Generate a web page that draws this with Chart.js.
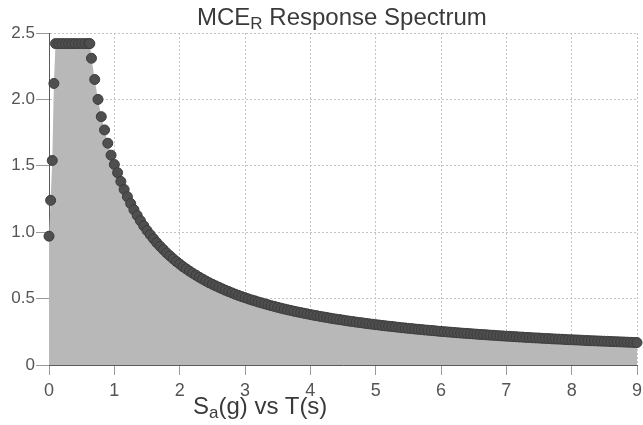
<!DOCTYPE html>
<html>
<head>
<meta charset="utf-8">
<title>MCER Response Spectrum</title>
<script src="https://cdn.jsdelivr.net/npm/chart.js@4.4.1/dist/chart.umd.min.js"></script>
<style>
  html, body { margin: 0; padding: 0; background: #fff; }
  #wrap { position: relative; width: 643px; height: 425px; font-family: "Liberation Sans", Arial, sans-serif; }
  #chart { position: absolute; left: 0; top: 0; }
  .ttl { position: absolute; white-space: nowrap; color: #3a3a3a; font-size: 24px; line-height: 24px; }
  .ttl sub { font-size: 17px; vertical-align: -4px; line-height: 0; }
  #main-title { left: 197px; top: 5px; }
  #x-title { left: 193px; top: 394px; }
</style>
</head>
<body>
<div id="wrap">
  <canvas id="chart" width="643" height="425"></canvas>
  <div class="ttl" id="main-title">MCE<sub>R</sub> Response Spectrum</div>
  <div class="ttl" id="x-title">S<sub>a</sub>(g) vs T(s)</div>
</div>
<script>
// ── Data ───────────────────────────────────────────────────────
// T (s)
const periods = [
  0, 0.025, 0.05, 0.075, 0.1, 0.15, 0.2, 0.25, 0.3, 0.35, 0.4, 0.45, 0.5, 0.55, 0.6, 0.625,
  0.65, 0.7, 0.75, 0.8, 0.85, 0.9, 0.95,
  1.0, 1.05, 1.1, 1.15, 1.2, 1.25, 1.3, 1.35, 1.4, 1.45, 1.5, 1.55, 1.6, 1.65, 1.7, 1.75, 1.8, 1.85, 1.9, 1.95,
  2.0, 2.05, 2.1, 2.15, 2.2, 2.25, 2.3, 2.35, 2.4, 2.45, 2.5, 2.55, 2.6, 2.65, 2.7, 2.75, 2.8, 2.85, 2.9, 2.95,
  3.0, 3.05, 3.1, 3.15, 3.2, 3.25, 3.3, 3.35, 3.4, 3.45, 3.5, 3.55, 3.6, 3.65, 3.7, 3.75, 3.8, 3.85, 3.9, 3.95,
  4.0, 4.05, 4.1, 4.15, 4.2, 4.25, 4.3, 4.35, 4.4, 4.45, 4.5, 4.55, 4.6, 4.65, 4.7, 4.75, 4.8, 4.85, 4.9, 4.95,
  5.0, 5.05, 5.1, 5.15, 5.2, 5.25, 5.3, 5.35, 5.4, 5.45, 5.5, 5.55, 5.6, 5.65, 5.7, 5.75, 5.8, 5.85, 5.9, 5.95,
  6.0, 6.05, 6.1, 6.15, 6.2, 6.25, 6.3, 6.35, 6.4, 6.45, 6.5, 6.55, 6.6, 6.65, 6.7, 6.75, 6.8, 6.85, 6.9, 6.95,
  7.0, 7.05, 7.1, 7.15, 7.2, 7.25, 7.3, 7.35, 7.4, 7.45, 7.5, 7.55, 7.6, 7.65, 7.7, 7.75, 7.8, 7.85, 7.9, 7.95,
  8.0, 8.05, 8.1, 8.15, 8.2, 8.25, 8.3, 8.35, 8.4, 8.45, 8.5, 8.55, 8.6, 8.65, 8.7, 8.75, 8.8, 8.85, 8.9, 8.95,
  9.0
];

// Sa (g)
const sa = [
  0.97, 1.24, 1.54, 2.12, 2.42, 2.42, 2.42, 2.42, 2.42, 2.42, 2.42, 2.42, 2.42, 2.42, 2.42, 2.42,
  2.31, 2.15, 2.00, 1.87, 1.77, 1.67, 1.58,
  1.51, 1.448, 1.382, 1.322, 1.267, 1.216, 1.169, 1.126, 1.086, 1.048, 1.013, 0.981, 0.950, 0.921, 0.894, 0.869, 0.844, 0.822, 0.800, 0.779,
  0.760, 0.741, 0.724, 0.707, 0.691, 0.676, 0.661, 0.647, 0.633, 0.620, 0.608, 0.596, 0.585, 0.574, 0.563, 0.553, 0.543, 0.533, 0.524, 0.515,
  0.507, 0.498, 0.490, 0.483, 0.475, 0.468, 0.461, 0.454, 0.447, 0.441, 0.434, 0.428, 0.422, 0.416, 0.411, 0.405, 0.400, 0.395, 0.390, 0.385,
  0.380, 0.375, 0.371, 0.366, 0.362, 0.358, 0.353, 0.349, 0.345, 0.342, 0.338, 0.334, 0.330, 0.327, 0.323, 0.320, 0.317, 0.313, 0.310, 0.307,
  0.304, 0.301, 0.298, 0.295, 0.292, 0.290, 0.287, 0.284, 0.281, 0.279, 0.276, 0.274, 0.271, 0.269, 0.267, 0.264, 0.262, 0.260, 0.258, 0.255,
  0.253, 0.251, 0.249, 0.247, 0.245, 0.243, 0.241, 0.239, 0.238, 0.236, 0.234, 0.232, 0.230, 0.229, 0.227, 0.225, 0.224, 0.222, 0.220, 0.219,
  0.217, 0.216, 0.214, 0.213, 0.211, 0.210, 0.208, 0.207, 0.205, 0.204, 0.203, 0.201, 0.200, 0.199, 0.197, 0.196, 0.195, 0.194, 0.192, 0.191,
  0.190, 0.189, 0.188, 0.187, 0.185, 0.184, 0.183, 0.182, 0.181, 0.180, 0.179, 0.178, 0.177, 0.176, 0.175, 0.174, 0.173, 0.172, 0.171, 0.170,
  0.169
];

const xTicks = [0, 1, 2, 3, 4, 5, 6, 7, 8, 9];
const yTickLabels = ['0', '0.5', '1.0', '1.5', '2.0', '2.5'];

// ── Chart ──────────────────────────────────────────────────────

const points = periods.map((t, i) => ({ x: t, y: sa[i] }));

const gridCommon = {
  color: '#c4c4c4',
  tickColor: '#9a9a9a',
  lineWidth: 1,
  drawTicks: true,
};

new Chart(document.getElementById('chart'), {
  type: 'scatter',
  data: {
    datasets: [{
      data: points,
      showLine: true,
      borderWidth: 0,
      borderColor: 'rgba(0,0,0,0)',
      fill: 'origin',
      backgroundColor: '#b8b8b8',
      pointRadius: 5,
      pointBorderWidth: 1,
      pointBackgroundColor: '#4f4f4f',
      pointBorderColor: '#3c3c3c',
      clip: false,
    }],
  },
  options: {
    responsive: false,
    animation: false,
    events: [],
    layout: { padding: { top: 33, right: 4, bottom: 0, left: 0 } },
    plugins: {
      legend: { display: false },
      tooltip: { enabled: false },
      title: { display: false },
    },
    scales: {
      x: {
        type: 'linear',
        min: 0,
        max: 9,
        afterBuildTicks: s => { s.ticks = xTicks.map(v => ({ value: v })); },
        afterFit: s => { s.height = 60; s.paddingLeft = 0; s.paddingRight = 0; },
        grid: { ...gridCommon, tickLength: 10 },
        border: { display: true, color: '#5a5a5a', width: 1, dash: [2, 2] },
        ticks: {
          color: '#555',
          padding: 5,
          maxRotation: 0,
          font: { family: '"Liberation Sans", Arial, sans-serif', size: 18 },
          callback: v => String(v),
        },
      },
      y: {
        type: 'linear',
        min: 0,
        max: 2.5,
        afterBuildTicks: s => { s.ticks = yTickLabels.map(l => ({ value: parseFloat(l) })); },
        afterFit: s => { s.width = 49; s.paddingTop = 0; s.paddingBottom = 0; },
        grid: { ...gridCommon, tickLength: 13 },
        border: { display: true, color: '#5a5a5a', width: 1, dash: [2, 2] },
        ticks: {
          color: '#555',
          padding: 1,
          font: { family: '"Liberation Sans", Arial, sans-serif', size: 17 },
          callback: v => yTickLabels.find(l => parseFloat(l) === v) ?? '',
        },
      },
    },
  },
});
</script>
</body>
</html>
